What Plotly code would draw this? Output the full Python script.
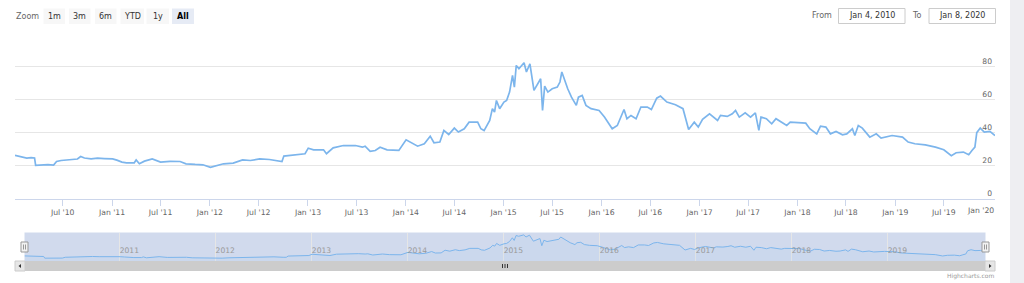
import plotly.graph_objects as go

# ---------------- data ----------------
dates = [
    "2010-01-04", "2010-01-15", "2010-01-29", "2010-02-17", "2010-03-05", "2010-03-18",
    "2010-03-22", "2010-04-12", "2010-05-07", "2010-05-28", "2010-06-08", "2010-06-25",
    "2010-07-16", "2010-08-03", "2010-08-25", "2010-09-06", "2010-09-20", "2010-10-15",
    "2010-11-08", "2010-12-03", "2011-01-03", "2011-01-19", "2011-02-07", "2011-02-24",
    "2011-03-25", "2011-04-01", "2011-04-13", "2011-05-02", "2011-05-31", "2011-07-01",
    "2011-08-05", "2011-09-12", "2011-10-04", "2011-11-07", "2011-12-06", "2012-01-03",
    "2012-01-26", "2012-02-21", "2012-03-28", "2012-05-02", "2012-05-31", "2012-07-05",
    "2012-08-10", "2012-09-14", "2012-09-26", "2012-10-03", "2012-11-09", "2012-12-21",
    "2013-01-02", "2013-01-22", "2013-02-28", "2013-03-11", "2013-04-05", "2013-05-13",
    "2013-06-27", "2013-07-23", "2013-08-02", "2013-08-21", "2013-09-09", "2013-09-27",
    "2013-10-23", "2013-11-22", "2013-12-06", "2014-01-02", "2014-01-20", "2014-02-14",
    "2014-03-11", "2014-04-02", "2014-04-16", "2014-05-08", "2014-05-23", "2014-06-10",
    "2014-07-01", "2014-07-16", "2014-08-07", "2014-08-25", "2014-09-26", "2014-10-08",
    "2014-10-20", "2014-10-29", "2014-11-10", "2014-11-20", "2014-11-28", "2014-12-05",
    "2014-12-17", "2015-01-02", "2015-01-12", "2015-01-23", "2015-02-03", "2015-02-10",
    "2015-02-17", "2015-02-27", "2015-03-18", "2015-03-27", "2015-04-09", "2015-04-24",
    "2015-05-08", "2015-05-19", "2015-05-26", "2015-06-03", "2015-06-15", "2015-07-01",
    "2015-07-20", "2015-07-30", "2015-08-06", "2015-08-17", "2015-08-28", "2015-09-11",
    "2015-09-29", "2015-10-07", "2015-10-21", "2015-11-04", "2015-11-23", "2015-12-23",
    "2016-01-12", "2016-02-10", "2016-02-29", "2016-03-25", "2016-04-05", "2016-04-20",
    "2016-05-09", "2016-05-27", "2016-06-20", "2016-07-05", "2016-07-25", "2016-08-08",
    "2016-09-01", "2016-10-03", "2016-10-31", "2016-11-21", "2016-12-12", "2016-12-27",
    "2017-01-12", "2017-02-07", "2017-03-09", "2017-03-20", "2017-04-14", "2017-05-03",
    "2017-05-15", "2017-05-29", "2017-06-20", "2017-07-10", "2017-07-28", "2017-08-10",
    "2017-08-18", "2017-09-07", "2017-09-27", "2017-10-13", "2017-11-02", "2017-11-22",
    "2017-12-05", "2018-01-08", "2018-02-01", "2018-02-16", "2018-03-14", "2018-03-28",
    "2018-04-17", "2018-05-04", "2018-05-25", "2018-06-18", "2018-07-04", "2018-07-25",
    "2018-08-03", "2018-08-16", "2018-08-31", "2018-09-28", "2018-10-22", "2018-11-09",
    "2018-12-20", "2019-01-28", "2019-02-18", "2019-03-15", "2019-04-23", "2019-05-31",
    "2019-07-01", "2019-07-29", "2019-08-16", "2019-09-12", "2019-10-02", "2019-10-14",
    "2019-10-25", "2019-11-01", "2019-11-14", "2019-11-29", "2019-12-20", "2020-01-08",
]
values = [
    26.2, 25.7, 25.0, 24.6, 24.9, 24.6,
    20.1, 20.3, 20.6, 20.3, 22.5, 23.1,
    23.5, 23.7, 24.0, 25.5, 24.6, 24.1,
    24.5, 24.3, 24.1, 23.3, 22.1, 21.7,
    21.7, 23.5, 21.1, 22.7, 24.1, 22.1,
    22.6, 22.5, 21.1, 20.7, 20.5, 18.9,
    20.1, 21.1, 21.5, 23.5, 23.1, 24.1,
    23.7, 22.5, 22.5, 25.8, 26.6, 27.2,
    30.6, 29.6, 29.6, 27.2, 30.8, 32.2,
    32.2, 31.2, 31.8, 28.6, 29.2, 31.2,
    29.6, 29.6, 29.2, 35.7, 33.9, 31.8,
    33.3, 37.9, 33.9, 34.3, 41.4, 38.9,
    42.8, 40.4, 42.4, 46.4, 46.4, 42.4,
    41.3, 44.0, 47.5, 54.6, 52.5, 59.6,
    54.6, 58.6, 59.6, 64.7, 74.8, 67.7,
    80.9, 78.9, 82.5, 76.9, 81.9, 65.7,
    69.8, 72.8, 53.5, 68.3, 64.7, 66.7,
    67.7, 70.8, 76.9, 71.8, 66.7, 61.6,
    56.6, 61.6, 62.7, 56.6, 54.6, 53.5,
    49.5, 42.4, 44.4, 54.1, 48.5, 50.5,
    48.5, 55.6, 55.6, 54.1, 61.0, 62.3,
    58.6, 57.0, 54.6, 42.0, 46.4, 43.4,
    48.1, 51.5, 47.5, 50.5, 49.9, 51.5,
    53.5, 49.5, 52.1, 49.5, 52.1, 41.4,
    49.5, 48.5, 45.4, 48.5, 46.4, 44.4,
    46.4, 45.8, 45.8, 42.4, 39.3, 44.0,
    43.4, 39.3, 40.8, 38.7, 39.3, 42.4,
    38.3, 44.4, 42.8, 37.3, 39.3, 36.7,
    38.3, 37.3, 34.3, 33.3, 32.6, 31.2,
    29.6, 26.0, 27.8, 28.2, 26.6, 29.2,
    31.2, 40.0, 42.8, 40.4, 40.8, 38.3,
]

main_tick_dates = [
    "2010-07-01", "2011-01-01", "2011-07-01", "2012-01-01", "2012-07-01", "2013-01-01",
    "2013-07-01", "2014-01-01", "2014-07-01", "2015-01-01", "2015-07-01", "2016-01-01",
    "2016-07-01", "2017-01-01", "2017-07-01", "2018-01-01", "2018-07-01", "2019-01-01",
    "2019-07-01", "2020-01-01",
]
main_tick_labels = [
    "Jul '10", "Jan '11", "Jul '11", "Jan '12", "Jul '12", "Jan '13",
    "Jul '13", "Jan '14", "Jul '14", "Jan '15", "Jul '15", "Jan '16",
    "Jul '16", "Jan '17", "Jul '17", "Jan '18", "Jul '18", "Jan '19",
    "Jul '19", "Jan '20",
]
y_ticks = [0, 20, 40, 60, 80, 100]
y_tick_labels = ["0", "20", "40", "60", "80", ""]
nav_tick_dates = ["2011-01-01", "2012-01-01", "2013-01-01", "2014-01-01", "2015-01-01",
                  "2016-01-01", "2017-01-01", "2018-01-01", "2019-01-01"]
nav_tick_labels = ["2011", "2012", "2013", "2014", "2015", "2016", "2017", "2018", "2019"]
range_buttons = ["1m", "3m", "6m", "YTD", "1y", "All"]
selected_button = "All"
range_from_text = "Jan 4, 2010"
range_to_text = "Jan 8, 2020"

# ---------------- layout helpers (figure pixel -> paper fraction) ----------------
W, H = 1024, 283
def px(x):
    return x / W
def py(y):
    return 1 - y / H

FONT = "DejaVu Sans, Lucida Grande, sans-serif"
LINE = "#7cb5ec"

fig = go.Figure()

fig.add_trace(go.Scatter(
    x=dates, y=values, mode="lines", xaxis="x", yaxis="y",
    line=dict(color=LINE, width=1.7), hoverinfo="x+y", showlegend=False,
))
fig.add_trace(go.Scatter(
    x=dates, y=values, mode="lines", xaxis="x2", yaxis="y2",
    line=dict(color=LINE, width=1), fill="tozeroy", fillcolor="rgba(124,181,236,0.06)",
    hoverinfo="skip", showlegend=False,
))

x_range = [dates[0], dates[-1]]

# last x tick label is right-aligned to the plot edge (as Highcharts does); drawn as annotation
shown_tick_labels = main_tick_labels[:-1] + [""]

fig.update_layout(
    width=W, height=H, autosize=False,
    margin=dict(l=0, r=0, t=0, b=0),
    paper_bgcolor="white", plot_bgcolor="rgba(0,0,0,0)",
    font=dict(family=FONT, size=8, color="#666666"),
    showlegend=False,
    xaxis=dict(
        domain=[px(15), px(995)], anchor="y", type="date", range=x_range,
        tickmode="array", tickvals=main_tick_dates, ticktext=shown_tick_labels,
        showgrid=False, zeroline=False,
        showline=True, linecolor="#ccd6eb", linewidth=1,
        ticks="outside", ticklen=6, tickcolor="#ccd6eb", tickwidth=1,
        tickfont=dict(family=FONT, size=7.7, color="#666666"),
        ticklabeloverflow="allow", fixedrange=True,
    ),
    yaxis=dict(
        domain=[py(198.5), py(34)], anchor="x", range=[0, 100], side="right",
        tickmode="array", tickvals=y_ticks, ticktext=y_tick_labels,
        showgrid=True, gridcolor="#e6e6e6", gridwidth=1, zeroline=False,
        showline=False, ticks="", ticklabelposition="inside top",
        tickfont=dict(family=FONT, size=7.6, color="#666666"),
        fixedrange=True,
    ),
    xaxis2=dict(
        domain=[px(24.5), px(985.5)], anchor="y2", type="date", range=x_range,
        tickmode="array", tickvals=nav_tick_dates, ticktext=nav_tick_labels,
        showgrid=True, gridcolor="#e6e6e6", gridwidth=1, zeroline=False,
        showline=False, ticks="", ticklabelposition="inside right",
        tickfont=dict(family=FONT, size=7.6, color="#999999"),
        fixedrange=True,
    ),
    yaxis2=dict(
        domain=[py(261), py(232.5)], anchor="x2", range=[12.5, 89],
        showgrid=False, zeroline=False, showline=False, showticklabels=False,
        ticks="", fixedrange=True,
    ),
)

shapes = []
def rect(x0, y0, x1, y1, fill, line_color=None, line_width=0, layer="above"):
    shapes.append(dict(
        type="rect", xref="paper", yref="paper",
        x0=px(x0), x1=px(x1), y0=py(y1), y1=py(y0),
        fillcolor=fill, layer=layer,
        line=dict(color=line_color or fill, width=line_width),
    ))
def seg(x0, y0, x1, y1, color, width=1):
    shapes.append(dict(
        type="line", xref="paper", yref="paper",
        x0=px(x0), x1=px(x1), y0=py(y0), y1=py(y1),
        line=dict(color=color, width=width), layer="above",
    ))
def tri(points, color):
    d = "M " + " L ".join(f"{px(a)},{py(b)}" for a, b in points) + " Z"
    shapes.append(dict(type="path", xref="paper", yref="paper", path=d,
                       fillcolor=color, line=dict(color=color, width=0), layer="above"))

# right gray strip outside the chart container
rect(1010, 0, 1024, 283, "#eeeef2")

# navigator mask (whole range selected)
rect(24.5, 232.5, 985.5, 261, "rgba(102,133,194,0.3)", layer="between")
# navigator handles
for hx in (24.5, 985.5):
    rect(hx - 3.5, 242, hx + 3.5, 252, "#f2f2f2", "#999999", 1)
    seg(hx - 1, 244.5, hx - 1, 249.5, "#999999", 1)
    seg(hx + 1, 244.5, hx + 1, 249.5, "#999999", 1)

# scrollbar
rect(15, 261, 995, 271, "#f2f2f2")
rect(25, 261, 985, 271, "#cccccc")
rect(15, 261, 25, 271, "#e6e6e6", "#cccccc", 1)
rect(985, 261, 995, 271, "#e6e6e6", "#cccccc", 1)
tri([(18.5, 266), (21, 264), (21, 268)], "#333333")
tri([(991.5, 266), (989, 264), (989, 268)], "#333333")
for rx in (502.5, 505, 507.5):
    seg(rx, 264, rx, 268, "#333333", 1)

# range selector buttons
button_boxes = [(43.5, 65), (69, 90.5), (95, 116.5), (120.5, 144), (146.5, 169), (172, 194)]
annotations = []
for label, (bx0, bx1) in zip(range_buttons, button_boxes):
    sel = label == selected_button
    rect(bx0, 8.5, bx1, 24, "#e6ebf5" if sel else "#f7f7f7")
    annotations.append(dict(
        x=px((bx0 + bx1) / 2), y=py(16.2), xref="paper", yref="paper",
        text=f"<b>{label}</b>" if sel else label, showarrow=False,
        xanchor="center", yanchor="middle",
        font=dict(family=FONT, size=8, color="#000000" if sel else "#333333"),
    ))
annotations.append(dict(x=px(14), y=py(16.2), xref="paper", yref="paper", text="Zoom",
                        showarrow=False, xanchor="left", yanchor="middle",
                        font=dict(family=FONT, size=8, color="#666666")))

# date inputs
rect(838.5, 8.5, 905, 23.5, "#ffffff", "#cccccc", 1)
rect(929, 8.5, 995.5, 23.5, "#ffffff", "#cccccc", 1)
inputs = [
    dict(x=px(821.7), y=py(16), text="From", xanchor="center"),
    dict(x=px(871.7), y=py(16), text=range_from_text, xanchor="center", color="#333333"),
    dict(x=px(917.3), y=py(16), text="To", xanchor="center"),
    dict(x=px(962.3), y=py(16), text=range_to_text, xanchor="center", color="#333333"),
]
for a in inputs:
    col = a.pop("color", "#666666")
    a.update(xref="paper", yref="paper", showarrow=False, yanchor="middle",
             font=dict(family=FONT, size=8, color=col))
annotations += inputs

# last x-axis label (right-aligned at the plot edge)
annotations.append(dict(x=px(996), y=py(210.5), xref="paper", yref="paper",
                        text=main_tick_labels[-1], showarrow=False, xanchor="right",
                        yanchor="middle", font=dict(family=FONT, size=7.7, color="#666666")))

# credits
annotations.append(dict(x=px(996), y=py(276), xref="paper", yref="paper",
                        text="Highcharts.com", showarrow=False, xanchor="right",
                        yanchor="middle", font=dict(family=FONT, size=6, color="#999999")))

fig.update_layout(shapes=shapes, annotations=annotations)
fig.write_html(
    "out.html",
    config={"displayModeBar": False, "responsive": False},
    post_script=("document.documentElement.style.overflow='hidden';"
                 "document.body.style.overflow='hidden';document.body.style.margin='0';"),
)
